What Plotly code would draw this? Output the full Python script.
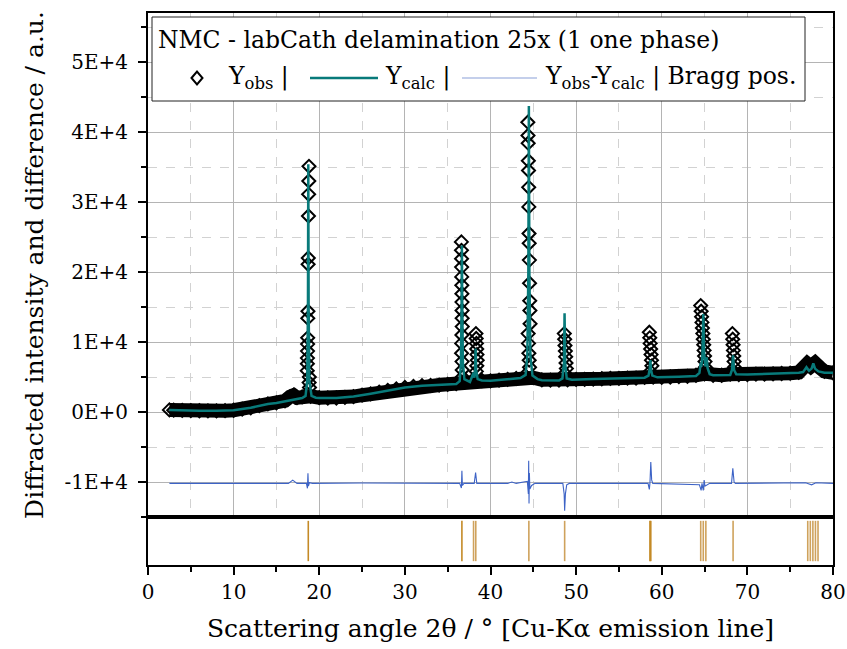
import plotly.graph_objects as go

# ---------------- data ----------------
# observed background band (2theta, counts)
obs_band_x = [2.5, 3, 4, 5, 6, 7, 8, 9, 10, 11, 12, 13, 14, 15, 16, 16.6, 17, 17.4, 18, 18.4,
              19, 20, 21, 22, 23, 24, 25, 26, 27, 28, 29, 30, 31, 32, 33, 34, 35, 36, 37, 38,
              39, 40, 41, 42, 43, 44, 45, 46, 47, 48, 49, 50, 51, 52, 53, 54, 55, 56, 57, 58,
              59, 60, 61, 62, 63, 64, 65, 66, 67, 68, 69, 70, 71, 72, 73, 74, 75, 76, 76.5, 77,
              77.4, 77.9, 78.5, 79, 80]
obs_band_y = [300, 260, 220, 200, 180, 170, 170, 190, 250, 400, 600, 900, 1150, 1300, 1600, 2200, 2400, 2050, 2150, 2400,
              2250, 2050, 2000, 2000, 2100, 2200, 2400, 2600, 2850, 3100, 3300, 3500, 3650, 3750, 3800, 3850, 3950, 4050, 4300, 4650,
              4500, 4450, 4550, 4650, 4800, 5200, 4900, 4600, 4550, 4550, 4600, 4650, 4650, 4700, 4750, 4800, 4800, 4850, 4850, 4950,
              5000, 4950, 5000, 5050, 5100, 5250, 5450, 5250, 5250, 5400, 5350, 5350, 5400, 5400, 5450, 5500, 5550, 5650, 6300, 6900,
              6500, 7000, 6300, 5800, 5600]

# observed points on the reflections
obs_peak_x = [18.60, 18.61, 18.62, 18.63, 18.64, 18.65, 18.66, 18.68, 18.70, 18.72, 18.74, 18.76, 18.78, 18.80, 18.82, 18.84, 18.86,
              36.60, 36.61, 36.62, 36.63, 36.64, 36.65, 36.66, 36.67, 36.68, 36.69, 36.70, 36.66, 36.64, 36.62, 36.68, 36.70, 36.72,
              38.30, 38.33, 38.36, 38.39, 38.42, 38.45, 38.40, 38.35,
              44.36, 44.38, 44.40, 44.42, 44.44, 44.46, 44.48, 44.50, 44.52, 44.54, 44.56, 44.58, 44.60, 44.62, 44.40, 44.44,
              44.48, 44.52, 44.56,
              48.62, 48.66, 48.70, 48.74, 48.78, 48.82, 48.86, 48.70,
              58.55, 58.60, 58.65, 58.70, 58.75, 58.80, 58.85, 58.68,
              64.55, 64.60, 64.65, 64.70, 64.75, 64.80, 64.85, 64.90, 64.95, 65.00, 65.05, 65.10, 65.15,
              68.25, 68.29, 68.33, 68.37, 68.41, 68.45, 68.49, 68.37]
obs_peak_y = [5900, 6900, 7700, 8700, 9700, 10600, 13400, 14400, 21100, 22000, 28000, 31100, 33000, 35100, 4200, 5000, 3500,
              24300, 23100, 21900, 20700, 19300, 18100, 16900, 15700, 14500, 13400, 12200, 11000, 9800, 8400, 7200, 6000, 5000,
              11200, 10500, 9800, 9000, 8200, 7400, 6600, 5800,
              41400, 39500, 38400, 35900, 34500, 32100, 29300, 25500, 24100, 21700, 18400, 15900, 14500, 12600, 11200, 9800,
              8400, 7400, 6400,
              11200, 10400, 9500, 8700, 7900, 7000, 6200, 5500,
              11400, 10600, 9800, 9000, 8200, 7400, 6600, 5800,
              15200, 14400, 13600, 12800, 12000, 11200, 10400, 9600, 8800, 8000, 7200, 6400, 5800,
              11200, 10400, 9600, 8800, 8000, 7200, 6400, 5800]

# calculated profile
calc_x = [2.5, 4, 6, 8, 10, 12, 14, 15, 16, 17, 18, 18.4, 18.6, 18.68, 18.72, 18.76, 18.84, 19.1, 19.6, 20,
          22, 24, 26, 28, 30, 32, 34, 36, 36.4, 36.55, 36.62, 36.66, 36.70, 36.78, 36.95, 37.6, 37.95, 38.02, 38.12, 38.2,
          38.26, 38.32, 38.5, 39, 40, 42, 43.5, 44.1, 44.3, 44.42, 44.48, 44.54, 44.66, 44.9, 45.5, 46, 48, 48.4, 48.58, 48.65,
          48.72, 48.9, 49.5, 52, 54, 56, 58, 58.45, 58.6, 58.67, 58.75, 58.9, 59.5, 62, 64, 64.4, 64.55, 64.62, 64.75, 64.85,
          64.95, 65.1, 65.25, 65.35, 65.6, 66, 68, 68.2, 68.33, 68.45, 68.7, 70, 72, 74, 76, 76.5, 76.9, 77.2, 77.5, 77.7,
          77.9, 78.3, 79, 80]
calc_y = [300, 230, 180, 170, 250, 600, 1150, 1300, 1550, 1800, 2000, 2300, 4500, 15000, 35400, 15000, 4500, 2300, 2050, 2000,
          2000, 2200, 2600, 3100, 3500, 3750, 3850, 4000, 4400, 7000, 15000, 23800, 15000, 7000, 4700, 4300, 5200, 5600, 4900, 6000,
          9050, 6000, 4700, 4500, 4450, 4650, 4850, 5300, 8000, 20000, 43700, 20000, 8000, 5200, 4700, 4550, 4500, 4800, 7000, 14100,
          7000, 4800, 4600, 4700, 4800, 4850, 4900, 5200, 6200, 7400, 6000, 5200, 4950, 5050, 5150, 5600, 7000, 6500, 8000, 14000,
          8500, 6500, 7800, 6300, 5400, 5250, 5300, 6000, 8100, 6000, 5400, 5350, 5400, 5500, 5600, 5700, 6400, 5900, 6200, 6950,
          6200, 5800, 5600, 5600]

# difference curve (obs - calc), drawn shifted by diff_offset
diff_offset = -10200
diff_x = [2.5, 10, 16.4, 16.9, 17.4, 18.5, 18.62, 18.68, 18.74, 18.85, 19.2, 25, 30, 36.4, 36.6, 36.66, 36.72, 36.9,
          38.1, 38.26, 38.4, 42, 42.5, 43, 44.3, 44.42, 44.46, 44.5, 44.54, 44.6, 44.8, 45.2, 48.45, 48.6, 48.66, 48.75,
          48.9, 49.2, 58.4, 58.55, 58.62, 58.72, 58.82, 58.95, 64.4, 64.6, 64.7, 64.85, 64.95, 65.05, 65.3, 65.6, 68.15,
          68.3, 68.45, 68.6, 76.8, 77.5, 78, 80]
diff_y = [0, 0, 0, 470, 0, 0, -700, 1430, -400, 100, 0, 50, 0, 0, -660, 1800, -300, 0,
          0, 1560, 0, 0, 200, 0, 300, -1500, 3240, -2860, 1500, -800, -300, 0, 0, -1500, -3900, -1500,
          -200, 0, 0, -860, 0, 3070, 500, 0, -200, -1000, 0, -1000, 470, -400, -200, 0, 0,
          2140, 200, 0, 100, -200, 100, 0]

# Bragg reflection positions (strong / weak)
bragg_strong = [18.72, 36.66, 58.62, 58.72]
bragg_weak = [38.02, 38.28, 44.48, 48.66, 64.55, 64.85, 65.15, 68.33, 77.05, 77.35, 77.65, 77.95, 78.25]

y_tick_vals = [-10000, 0, 10000, 20000, 30000, 40000, 50000]
y_tick_text = ["-1E+4", "0E+0", "1E+4", "2E+4", "3E+4", "4E+4", "5E+4"]

legend_title = "NMC - labCath delamination 25x (1 one phase)"

# ---------------- figure ----------------
FONT = "DejaVu Serif"
W, H = 847, 649
ML, MR, MT, MB = 148, 14, 13, 84
PW, PH = W - ML - MR, H - MT - MB
split = 48 / PH  # height share of the Bragg strip


def bragg_xy(pos):
    xs, ys = [], []
    for p in pos:
        xs += [p, p, None]
        ys += [0.08, 0.92, None]
    return xs, ys


fig = go.Figure()

fig.add_trace(go.Scatter(
    x=obs_band_x, y=obs_band_y, mode="lines+markers",
    line=dict(color="black", width=14),
    marker=dict(symbol="diamond-open", size=10, color="black", line=dict(width=2)),
    xaxis="x", yaxis="y", showlegend=False, hoverinfo="skip"))
fig.add_trace(go.Scatter(
    x=obs_peak_x, y=obs_peak_y, mode="markers",
    marker=dict(symbol="diamond-open", size=10, color="black", line=dict(width=2)),
    xaxis="x", yaxis="y", showlegend=False))
fig.add_trace(go.Scatter(
    x=diff_x, y=[v + diff_offset for v in diff_y], mode="lines",
    line=dict(color="#3d63c6", width=1.1),
    xaxis="x", yaxis="y", showlegend=False))
fig.add_trace(go.Scatter(
    x=calc_x, y=calc_y, mode="lines",
    line=dict(color="#087a7a", width=2.5),
    xaxis="x", yaxis="y", showlegend=False))

bx, by = bragg_xy(bragg_strong)
fig.add_trace(go.Scatter(x=bx, y=by, mode="lines", line=dict(color="#c48a26", width=1.6),
                         xaxis="x2", yaxis="y2", showlegend=False))
bx, by = bragg_xy(bragg_weak)
fig.add_trace(go.Scatter(x=bx, y=by, mode="lines", line=dict(color="#cfa25c", width=1.6),
                         xaxis="x2", yaxis="y2", showlegend=False))

grid_major = "#b4b4b4"
grid_minor = "#d2d2d2"

fig.update_layout(
    template="none",
    width=W, height=H,
    margin=dict(l=ML, r=MR, t=MT, b=MB, autoexpand=False),
    paper_bgcolor="white", plot_bgcolor="white",
    font=dict(family=FONT, size=20, color="black"),
    xaxis=dict(domain=[0, 1], anchor="y", matches="x2", range=[0, 80], automargin=False,
               showticklabels=False, ticks="",
               showgrid=True, gridcolor=grid_major, gridwidth=1, dtick=10, tick0=0,
               minor=dict(dtick=5, showgrid=True, gridcolor=grid_minor, griddash="dash"),
               showline=True, linecolor="black", linewidth=2, mirror=True, zeroline=False),
    yaxis=dict(domain=[split, 1], anchor="x", range=[-15000, 57000], automargin=False,
               tickvals=y_tick_vals, ticktext=y_tick_text,
               ticks="outside", ticklen=8, tickwidth=1.5, tickcolor="black",
               ticklabelstandoff=6,
               minor=dict(dtick=5000, tick0=0, ticks="outside", ticklen=5, tickcolor="black",
                          showgrid=True, gridcolor=grid_minor, griddash="dash"),
               showgrid=True, gridcolor=grid_major, gridwidth=1,
               showline=True, linecolor="black", linewidth=2, mirror=True, zeroline=False,
               title=dict(text="Diffracted intensity and difference / a.u.",
                          font=dict(size=25), standoff=14)),
    xaxis2=dict(domain=[0, 1], anchor="y2", range=[0, 80], automargin=False,
                tickvals=[0, 10, 20, 30, 40, 50, 60, 70, 80],
                ticks="outside", ticklen=8, tickwidth=1.5, tickcolor="black",
                minor=dict(dtick=5, ticks="outside", ticklen=5, tickcolor="black", showgrid=False),
                showgrid=False, showline=True, linecolor="black", linewidth=2, mirror=True,
                zeroline=False,
                title=dict(text="Scattering angle 2θ / ° [Cu-Kα emission line]",
                           font=dict(size=25), standoff=16)),
    yaxis2=dict(domain=[0, split], anchor="x2", range=[0, 1], automargin=False,
                showticklabels=False, ticks="", showgrid=False, zeroline=False,
                showline=True, linecolor="black", linewidth=2, mirror=True),
)


def px_x(p):
    return (p - ML) / PW


def px_y(p):
    return (H - MB - p) / PH


# legend box drawn over the plot area
fig.add_shape(type="rect", xref="paper", yref="paper",
              x0=px_x(152), x1=px_x(805), y0=px_y(101), y1=px_y(17),
              fillcolor="white", line=dict(color="#222", width=1), layer="above")
cy = px_y(78)
dx, dy = 5.5 / PW, 6.5 / PH
cx = px_x(197)
fig.add_shape(type="path", xref="paper", yref="paper",
              path=f"M {cx-dx},{cy} L {cx},{cy+dy} L {cx+dx},{cy} L {cx},{cy-dy} Z",
              line=dict(color="black", width=2), fillcolor="white", layer="above")
fig.add_shape(type="line", xref="paper", yref="paper",
              x0=px_x(310), x1=px_x(378), y0=cy, y1=cy,
              line=dict(color="#087a7a", width=2.5), layer="above")
fig.add_shape(type="line", xref="paper", yref="paper",
              x0=px_x(462), x1=px_x(537), y0=cy, y1=cy,
              line=dict(color="#8aa0d8", width=1.2), layer="above")

fig.add_annotation(xref="paper", yref="paper", x=px_x(156), y=px_y(40),
                   xanchor="left", yanchor="middle", showarrow=False,
                   text=legend_title, font=dict(size=23.5))
for left, txt in [(226, "Y<sub>obs</sub> |"),
                  (383, "Y<sub>calc</sub> |"),
                  (543, "Y<sub>obs</sub>-Y<sub>calc</sub> | Bragg pos.")]:
    fig.add_annotation(xref="paper", yref="paper", x=px_x(left), y=cy,
                       xanchor="left", yanchor="middle", showarrow=False,
                       text=txt, font=dict(size=23.5))

fig.write_html("out.html")
